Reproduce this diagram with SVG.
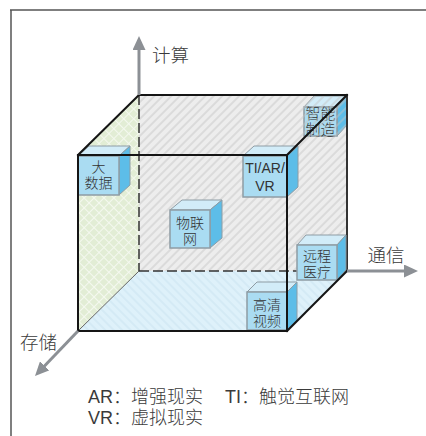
<svg xmlns="http://www.w3.org/2000/svg" width="426" height="436" viewBox="0 0 426 436">
<style>
  .lbl{font-family:"Noto Sans CJK SC","Noto Sans",sans-serif;font-size:18.5px;font-weight:300;fill:#3a3a3a}
  .leg{font-family:"Liberation Sans","Noto Sans CJK SC",sans-serif;font-size:18px;font-weight:300;fill:#3a3a3a}
  .bt{font-family:"Liberation Sans","Noto Sans CJK SC",sans-serif;font-size:14px;font-weight:300;fill:#333;text-anchor:middle}
  .front{fill:#aadcf2;stroke:#8e9ca4;stroke-width:1.5}
  .top{fill:#d2ecf8;stroke:#8e9ca4;stroke-width:1}
  .side{fill:#5dbde8;stroke:#8e9ca4;stroke-width:1}
  .edge{stroke:#151515;stroke-width:2;fill:none;stroke-linecap:square}
  .hid{stroke:#333;stroke-width:1.5;fill:none;stroke-dasharray:10 4}
  .axis{stroke:#8c9095;stroke-width:3;fill:none}
</style>
<defs>
  <pattern id="hg" patternUnits="userSpaceOnUse" width="6" height="6" patternTransform="rotate(45)">
    <line x1="3" y1="0" x2="3" y2="6" stroke="#c4c4c4" stroke-width="0.9"/>
  </pattern>
  <pattern id="hgreen" patternUnits="userSpaceOnUse" width="7" height="7" patternTransform="rotate(45)">
    <line x1="3.5" y1="0" x2="3.5" y2="7" stroke="#f4f8ef" stroke-width="1"/>
    <line x1="0" y1="3.5" x2="7" y2="3.5" stroke="#f4f8ef" stroke-width="1"/>
  </pattern>
  <pattern id="hblue" patternUnits="userSpaceOnUse" width="6" height="6" patternTransform="rotate(-45)">
    <line x1="3" y1="0" x2="3" y2="6" stroke="#cbe4f0" stroke-width="1.1"/>
  </pattern>
  <marker id="arr" markerUnits="userSpaceOnUse" markerWidth="14" markerHeight="13" viewBox="0 0 14 13" refX="2" refY="6.5" orient="auto">
    <path d="M0,0 L14,6.5 L0,13 Z" fill="#8c9095"/>
  </marker>
</defs>

<g id="frame" stroke="#555" stroke-width="1.5" fill="none">
  <line x1="10" y1="10" x2="426" y2="10"/>
  <line x1="11" y1="10" x2="11" y2="436"/>
</g>

<g id="cube-faces">
  <rect x="139" y="95" width="208" height="176" fill="#ededed"/>
  <polygon points="78,155 139,95 139,271 78,331" fill="#e2edd5"/>
  <polygon points="78,155 139,95 139,271 78,331" fill="url(#hgreen)"/>
  <polygon points="78,331 139,271 347,271 287,331" fill="#def1fa"/>
  <polygon points="78,331 139,271 347,271 287,331" fill="url(#hblue)"/>
</g>

<g id="node-zhinengzhizao">
  <polygon class="top" points="304,107 314,96 347,96 337,107"/>
  <polygon class="side" points="337,107 347,96 347,125 337,136"/>
  <rect class="front" x="304" y="107" width="33" height="29"/>
  <text class="bt" style="font-size:15px" x="320.5" y="119">智能</text>
  <text class="bt" style="font-size:15px" x="320.5" y="135">制造</text>
</g>

<rect x="139" y="95" width="208" height="176" fill="url(#hg)"/>

<g id="cube-back-edges">
  <line class="hid" x1="139" y1="95" x2="139" y2="271"/>
  <line class="hid" x1="139" y1="271" x2="347" y2="271"/>
  <line class="edge" x1="139" y1="95" x2="347" y2="95"/>
  <line x1="347" y1="95" x2="347" y2="271" stroke="#333" stroke-width="2"/>
  <line x1="78" y1="331" x2="139" y2="271" stroke="#666" stroke-width="1"/>
</g>

<g id="node-dashuju">
  <polygon class="top" points="78,156 89,146 130,146 119,156"/>
  <polygon class="side" points="119,156 130,146 130,185 119,195"/>
  <rect class="front" x="78" y="156" width="41" height="39"/>
  <text class="bt" x="98.5" y="172">大</text>
  <text class="bt" x="98.5" y="188">数据</text>
</g>

<g id="node-wulianwang">
  <polygon class="top" points="170,210 182,200 222,200 210,210"/>
  <polygon class="side" points="210,210 222,200 222,238 210,248"/>
  <rect class="front" x="170" y="210" width="40" height="38"/>
  <text class="bt" x="190" y="228">物联</text>
  <text class="bt" x="190" y="244">网</text>
</g>

<g id="node-tiarvr">
  <polygon class="top" points="243,156 254,146 298,146 287,156"/>
  <polygon class="side" points="287,156 298,146 298,187 287,197"/>
  <rect class="front" x="243" y="156" width="44" height="41"/>
  <text class="bt" x="265" y="173">TI/AR/</text>
  <text class="bt" x="265" y="191">VR</text>
</g>

<g id="node-yuanchengyiliao">
  <polygon class="top" points="297,245 306,235 346,235 337,245"/>
  <polygon class="side" points="337,245 346,235 346,270 337,280"/>
  <rect class="front" x="297" y="245" width="40" height="35"/>
  <text class="bt" x="317" y="261">远程</text>
  <text class="bt" x="317" y="277">医疗</text>
</g>

<g id="node-gaoqingshipin">
  <polygon class="top" points="247,292 257,282 297,282 287,292"/>
  <polygon class="side" points="287,292 297,282 297,320 287,330"/>
  <rect class="front" x="247" y="292" width="40" height="38"/>
  <text class="bt" x="267" y="310">高清</text>
  <text class="bt" x="267" y="326">视频</text>
</g>

<g id="cube-front-edges">
  <rect class="edge" x="78" y="155" width="209" height="176"/>
  <line class="edge" x1="78" y1="155" x2="139" y2="95"/>
  <line class="edge" x1="287" y1="155" x2="347" y2="95"/>
  <line class="edge" x1="287" y1="331" x2="347" y2="271"/>
</g>

<g id="connectors">
  <line class="axis" x1="139" y1="95" x2="139" y2="48" marker-end="url(#arr)"/>
  <line class="axis" x1="347" y1="271" x2="406" y2="271" marker-end="url(#arr)"/>
  <line class="axis" x1="78" y1="331" x2="43.3" y2="367.3" marker-end="url(#arr)"/>
</g>

<g id="labels">
  <text class="lbl" x="152" y="62">计算</text>
  <text class="lbl" x="386" y="262" text-anchor="middle">通信</text>
  <text class="lbl" x="20" y="349">存储</text>
</g>

<g id="legend">
  <text class="leg" x="88" y="403">AR：增强现实</text>
  <text class="leg" x="225" y="403">TI：触觉互联网</text>
  <text class="leg" x="88" y="424">VR：虚拟现实</text>
</g>
</svg>
